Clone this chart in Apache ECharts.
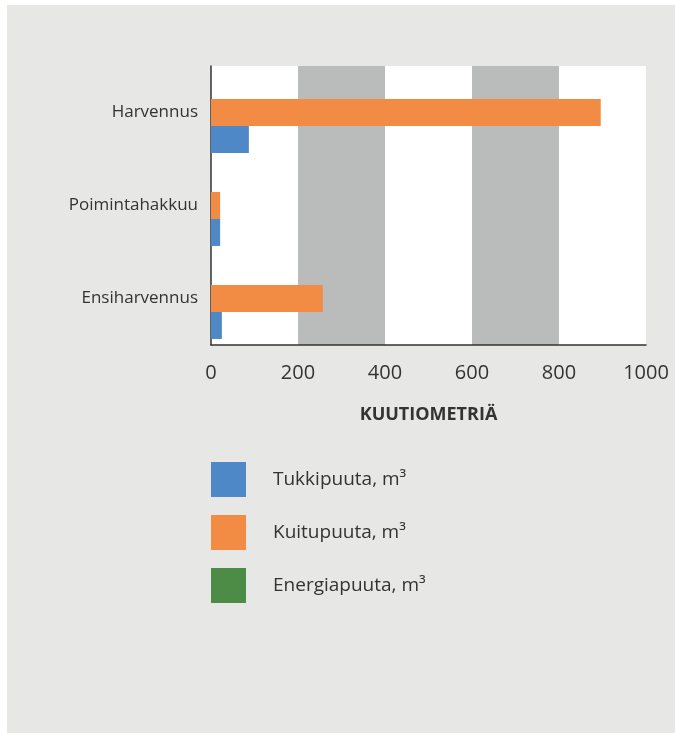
<!DOCTYPE html>
<html>
<head>
<meta charset="utf-8">
<script src="https://cdn.jsdelivr.net/npm/echarts@6/dist/echarts.min.js"></script>
<style>
html,body{margin:0;padding:0;background:#fff;width:675px;height:733px;overflow:hidden;}
#c{position:absolute;left:7px;top:5px;width:668px;height:728px;}
</style>
</head>
<body>
<div id="c"></div>
<script>
var categories = ['Ensiharvennus', 'Poimintahakkuu', 'Harvennus'];
var tukkipuuta = [25, 21, 87];
var kuitupuuta = [257, 21, 896];
var energiapuuta = [0, 0, 0];
var seriesNames = ['Tukkipuuta, m³', 'Kuitupuuta, m³', 'Energiapuuta, m³'];
var colors = ['#4e88c7', '#f28c45', '#4d8c46'];
var xTicks = [0, 200, 400, 600, 800, 1000];

var chart = echarts.init(document.getElementById('c'), null, {renderer: 'canvas'});
var font = '"Open Sans", "Noto Sans", sans-serif';
var barCommon = {type: 'bar', barGap: '0%', barCategoryGap: '13%'};
chart.setOption({
  backgroundColor: '#e7e7e5',
  animation: false,
  textStyle: {fontFamily: font},
  grid: {left: 204, right: 29, top: 61, bottom: 388, show: true, backgroundColor: '#ffffff', borderWidth: 0},
  legend: {
    orient: 'vertical', left: 199, top: 452,
    itemWidth: 35, itemHeight: 35, itemGap: 18, icon: 'rect',
    data: seriesNames,
    textStyle: {fontSize: 19, color: '#333', fontFamily: font, padding: [4, 0, 0, 22]}
  },
  xAxis: {
    type: 'value', min: xTicks[0], max: xTicks[xTicks.length - 1], interval: 200,
    axisLine: {show: true, lineStyle: {color: '#333', width: 1.5}},
    axisTick: {show: false},
    splitLine: {show: false},
    splitArea: {show: true, areaStyle: {color: ['#ffffff', '#babcbb']}},
    axisLabel: {fontSize: 20, color: '#333', margin: 18, fontFamily: font, formatter: function (v) { return String(v); }},
    name: 'KUUTIOMETRIÄ', nameLocation: 'middle', nameGap: 61,
    nameTextStyle: {fontSize: 18, fontWeight: 'bold', color: '#333', fontFamily: font}
  },
  yAxis: {
    type: 'category', data: categories,
    axisLine: {show: true, lineStyle: {color: '#333', width: 1.5}},
    axisTick: {show: false},
    axisLabel: {fontSize: 17, color: '#333', margin: 13, fontFamily: font, padding: [3, 0, 0, 0]}
  },
  series: [
    Object.assign({name: seriesNames[2], data: energiapuuta, itemStyle: {color: colors[2]}}, barCommon),
    Object.assign({name: seriesNames[1], data: kuitupuuta, itemStyle: {color: colors[1]}}, barCommon),
    Object.assign({name: seriesNames[0], data: tukkipuuta, itemStyle: {color: colors[0]}}, barCommon)
  ]
});
</script>
</body>
</html>
